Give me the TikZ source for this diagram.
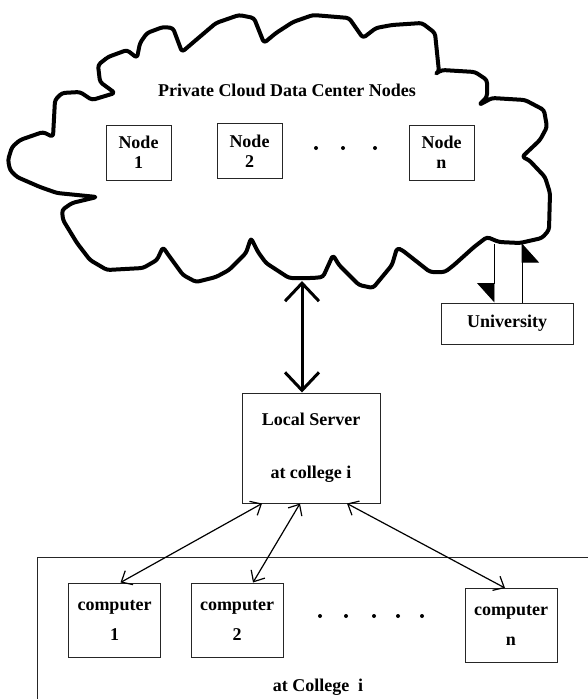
\documentclass[tikz,border=0pt]{standalone}
\usepackage{fontspec}
\setmainfont{Liberation Serif}
\usetikzlibrary{arrows.meta,calc}
\begin{document}
\begin{tikzpicture}[x=1pt,y=-1pt,
  every node/.style={font=\bfseries\fontsize{18}{20}\selectfont},
  box/.style={draw=black!85,line width=1pt,minimum width=65pt,minimum height=55pt,inner sep=0pt,align=center},
  cbox/.style={draw=black!85,line width=1pt,minimum width=92pt,minimum height=74pt,inner sep=0pt,align=center},
  cloudline/.style={line width=4pt,line join=round,line cap=round,rounded corners=3pt},
  thin/.style={line width=1.2pt,{Straight Barb[length=9pt,width=16pt]}-{Straight Barb[length=9pt,width=16pt]}},
  harp/.style={line width=0.9pt,-{Triangle[harpoon,swap,length=19pt,width=34pt]}},
  dot/.style={fill=black}
]
\useasboundingbox (0,0) rectangle (588,699);
% cloud
\draw[cloudline] (8,160) -- (12,147) -- (20,140) -- (43,132) -- (53,137) -- (55,100) -- (62,93) -- (80,92) -- (92,100) -- (115,93) -- (100,82) -- (98,65) -- (108,57) -- (127,50) -- (137,58) -- (140,43) -- (147,33) -- (163,27) -- (173,28) -- (182,52) -- (196,40) -- (216,23) -- (239,15) -- (254,18) -- (264,43) -- (276,33) -- (293,22) -- (313,15) -- (349,18) -- (363,38) -- (376,28) -- (392,25) -- (422,23) -- (435,33) -- (439,72) -- (435,74) -- (442,70) -- (475,72) -- (487,80) -- (487,97) -- (479,105) -- (492,98) -- (525,100) -- (544,110) -- (547,127) -- (540,140) -- (522,157) -- (529,160) -- (545,177) -- (550,193) -- (549,230) -- (542,238) -- (520,243) -- (499,242) -- (487,237) -- (474,247) -- (454,265) -- (445,272) -- (430,272) -- (402,250) -- (397,248) -- (392,265) -- (373,288) -- (359,285) -- (339,265) -- (333,255) -- (323,277) -- (313,278) -- (289,278) -- (266,263) -- (258,252) -- (251,238) -- (246,253) -- (229,270) -- (216,277) -- (196,282) -- (183,275) -- (167,253) -- (163,247) -- (157,260) -- (143,268) -- (107,270) -- (90,260) -- (77,243) -- (63,220) -- (62,210) -- (72,203) -- (97,197) -- (57,193) -- (40,187) -- (17,177) -- (10,170) -- cycle;
\node (title) at (287,90) {Private Cloud Data Center Nodes};
\node[box] (n1) at (138.5,152.5) {Node\\1};
\node[box] (n2) at (249.5,151) {Node\\2};
\node[box] (nn) at (441.5,152.5) {Node\\n};
\fill[dot] (316,148) circle (2) (343,148) circle (2) (375,148) circle (2);
% cloud anchor points
\coordinate (cb) at (302,281);
\coordinate (cu1) at (494,244);
\coordinate (cu2) at (522,243);
% university
\node[draw=black!85,line width=1pt,minimum width=132pt,minimum height=41pt,inner sep=0pt] (univ) at (507,323.5) {University};
\draw[harp] (cu1) -- (cu1 |- univ.north);
\draw[harp] (cu2 |- univ.north) -- (cu2);
% local server
\node[draw=black!85,line width=1pt,minimum width=138pt,minimum height=110pt,inner sep=0pt,align=center] (server) at (311,448) {Local Server\\[33pt]at college i};
\draw[line width=3pt,{Straight Barb[length=18pt,width=34pt]}-{Straight Barb[length=18pt,width=34pt]}] (cb) -- ($(server.north)+(-9,0)$);
% college
\draw[line width=1pt,black!85] (590,557) -- (37,557) -- (37,701);
\node (coll) at (318,687) {at College~~i};
\node[cbox] (c1) at (114.5,620) {computer\\[10pt]1};
\node[cbox] (c2) at (237,620) {computer\\[10pt]2};
\node[cbox] (cn) at (511,625.5) {computer\\[10pt]n};
\fill[dot] (320,616) circle (2) (346,616) circle (2) (374,616) circle (2) (398,616) circle (2) (422,616) circle (2);
\draw[thin] ($(server.south)+(-49,0)$) -- ($(c1.north)+(6,0)$);
\draw[thin] ($(server.south)+(-11,0)$) -- ($(c2.north)+(16,0)$);
\draw[thin] ($(server.south)+(36,0)$) -- ($(cn.north)+(-6,0)$);
\end{tikzpicture}
\end{document}
